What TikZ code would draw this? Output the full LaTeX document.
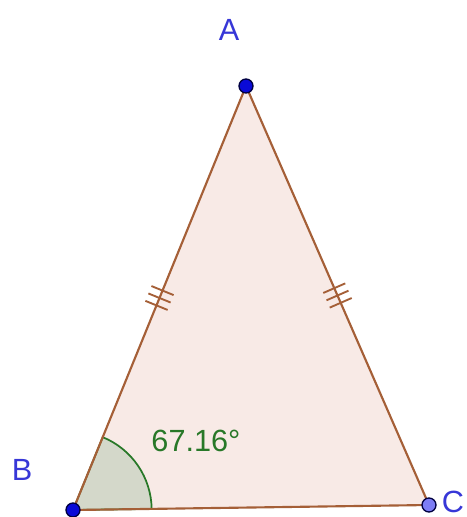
\documentclass[tikz,border=0pt]{standalone}
\usepackage{fontspec}
\setmainfont{Liberation Sans}
\usetikzlibrary{decorations.markings}

\definecolor{edgebrown}{RGB}{165,95,55}
\definecolor{facepink}{RGB}{248,234,230}
\definecolor{ptblue}{RGB}{10,10,215}
\definecolor{ptlight}{RGB}{125,125,245}
\definecolor{labelblue}{RGB}{55,55,215}
\definecolor{anglegreen}{RGB}{40,120,40}
\definecolor{anglefill}{RGB}{212,216,202}

\begin{document}
\begin{tikzpicture}[x=0.75pt, y=-0.75pt,
    point/.style={circle, draw=black!75!blue, fill=ptblue, line width=1pt,
        minimum size=10.5pt, inner sep=0pt},
    lbl/.style={text=labelblue, inner sep=1pt, font=\fontsize{23}{26}\selectfont},
    side/.style={draw=edgebrown, line width=1.6pt},
    ticks/.style={postaction={decorate, decoration={markings,
        mark=at position 0.5 with {
            \foreach \s in {-6pt,0pt,6pt}
                \draw[edgebrown, line width=1.4pt] (\s,-9pt) -- (\s,9pt);
        }}}}
]
\useasboundingbox (0,0) rectangle (467,517);

\coordinate (A) at (246,86);
\coordinate (B) at (73,510);
\coordinate (C) at (429,505);

% face and angle
\fill[facepink] (A) -- (B) -- (C) -- cycle;
\filldraw[fill=anglefill, draw=anglegreen, line width=1.3pt]
    (B) -- ([shift={(0.8:59pt)}]B) arc[start angle=0.8, end angle=67.8, radius=59pt] -- cycle;

% sides
\draw[side, ticks] (A) -- (B);
\draw[side, ticks] (A) -- (C);
\draw[side] (B) -- (C);

% points
\node[point] (pA) at (A) {};
\node[point] (pB) at (B) {};
\node[point, fill=ptlight] (pC) at (C) {};

% labels
\node[lbl] (lA) at (229,30) {A};
\node[lbl] (lB) at (22,470) {B};
\node[lbl] (lC) at (453,502) {C};
\node[text=anglegreen, font=\fontsize{23}{26}\selectfont] (ang) at (196,441) {67.16°};
\end{tikzpicture}
\end{document}
